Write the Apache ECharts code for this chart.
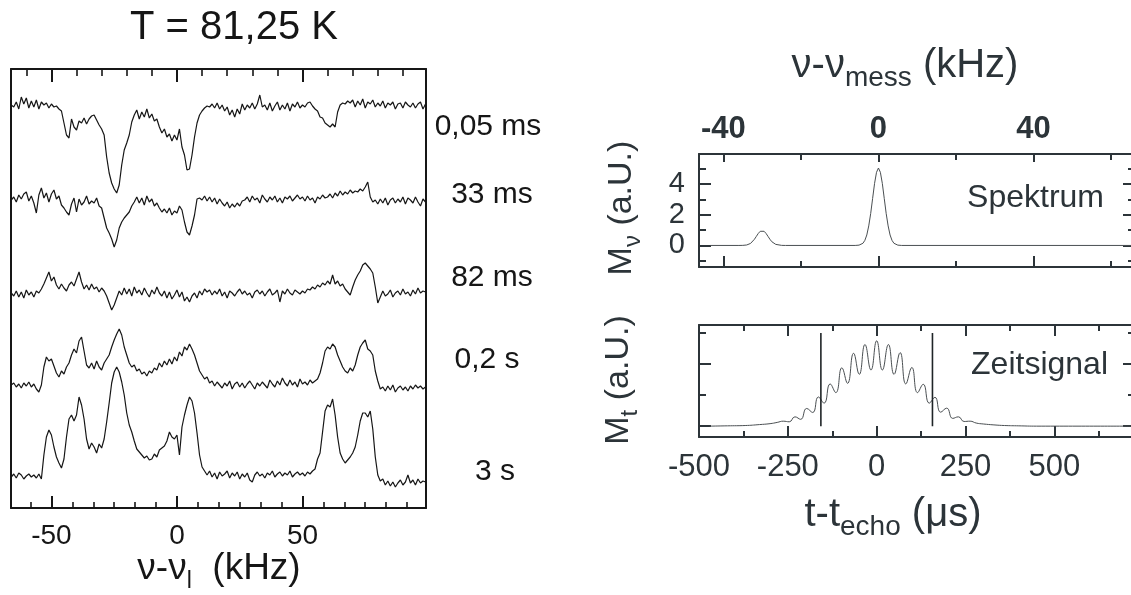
<!DOCTYPE html>
<html>
<head>
<meta charset="utf-8">
<script src="https://cdn.jsdelivr.net/npm/echarts@6/dist/echarts.min.js"></script>
<style>
  html, body { margin: 0; padding: 0; background: #ffffff; }
  #chart { width: 1131px; height: 595px; }
</style>
</head>
<body>
<div id="chart"></div>
<script>
// ---------------------------------------------------------------------------
// Left panel: NMR spectra at T = 81,25 K for several waiting times,
// sampled every 1 kHz from -66 kHz to +99 kHz (relative signal, stacked).
// ---------------------------------------------------------------------------
const FREQ_START_KHZ = -66;
const FREQ_STEP_KHZ = 1;

const waitLabels = ['0,05 ms', '33 ms', '82 ms', '0,2 s', '3 s'];

// vertical stacking offset of each spectrum
const traceOffsets = [403, 308, 215, 123, 31];

const spec005ms = [
  0, -2, 3, -4, 8, 1, 7, -3, 4, -2,
  5, -4, 3, 0, 2, -3, 1, -2, -1, -4,
  -6, -18, -30, -33, -14, -22, -25, -16, -18, -13,
  -19, -14, -11, -10, -15, -20, -24, -30, -52, -68,
  -78, -84, -88, -80, -60, -45, -38, -30, -17, -10,
  -5, -14, -7, -12, -4, -13, -9, -16, -14, -22,
  -28, -24, -32, -29, -36, -30, -35, -24, -42, -50,
  -65, -64, -50, -32, -18, -10, -6, -3, -1, -2,
  1, -3, 2, -4, 0, -6, -2, -10, -5, -12,
  -4, -9, 1, -5, 0, -3, 2, -4, 1, 10,
  -2, 0, -5, 2, -6, -1, 3, -5, 0, -4,
  2, -6, 1, -2, 3, -3, 0, -2, 2, 3,
  -1, -4, -6, -12, -13, -18, -20, -22, -19, -22,
  -7, 0, 2, 1, 4, 2, 5, -2, 4, 0,
  6, -3, 3, 1, 5, -2, 2, -1, 4, -3,
  2, 0, 3, -4, 1, 2, -3, 3, 0, -2,
  2, -3, 1, 3, -4, 1
];

const spec33ms = [
  0, 3, -2, 5, 1, 6, 8, -1, 4, -3,
  -13, 5, 12, 2, 7, -2, 6, 10, 1, 4,
  -5, -8, -12, -15, -4, 2, -12, 1, -5, -2,
  4, -4, -1, -3, 2, -6, -8, -18, -28, -33,
  -39, -47, -40, -28, -22, -18, -15, -12, -6, -2,
  3, -3, 2, -5, 4, -2, 1, -6, -3, -8,
  -12, -9, -13, -8, -15, -11, -13, -6, -10, -22,
  -32, -35, -26, -15, 1, 2, 0, 4, -1, 3,
  -2, 2, -4, 1, -3, -6, -2, -8, -4, -7,
  -3, -6, -1, 0, 3, -2, 4, 0, 2, -3,
  5, 1, -2, 3, 0, 4, -2, 2, -3, 3,
  1, 4, -1, 2, 5, 1, 3, -1, 4, 0,
  2, -3, 3, 1, 5, 2, 3, 6, 2, 7,
  4, 9, 5, 8, 6, 10, 7, 9, 8, 11,
  9, 13, 18, 3, -2, 0, -4, 1, -3, 2,
  -5, 0, 2, -3, 1, -2, 3, -4, 2, 0,
  -3, 3, -2, -6, 1, -2
];

const spec82ms = [
  0, -3, 2, -4, 1, -5, 3, -2, 1, -4,
  2, 0, 4, 9, 15, 21, 12, 16, 8, 4,
  9, 5, 2, 8, 11, 7, 14, 21, 11, 4,
  8, 3, 9, 4, 6, 1, 5, 2, -3, -10,
  -17, -12, -5, 2, -2, 5, -1, 4, -3, 6,
  0, 3, -2, 5, 0, -4, 3, -1, 6, 0,
  -3, 2, -5, 1, -6, -2, 3, -4, 1, -8,
  -4, -9, -3, 0, -5, 2, -2, 4, 1, 3,
  -2, 2, -1, 4, -3, 1, -5, 2, 0, -3,
  1, 4, -1, 2, -2, 0, -5, 1, 3, -1,
  2, -3, 1, 4, -2, 0, 3, -9, 2, -1,
  4, 0, -2, 3, 1, -1, 2, 0, 4, 3,
  6, 4, 8, 6, 10, 8, 12, 9, 18, 9,
  12, 7, 9, 4, 1, -2, 6, 13, 18, 22,
  28, 30, 27, 24, 20, 6, -10, -4, 2, -3,
  -1, 3, -4, 0, 2, -2, 4, -1, 1, -3,
  3, -1, 5, 0, 2, 1
];

const spec02s = [
  0, 2, -2, 1, -3, 2, -1, 3, -2, 1,
  -4, -7, 0, 18, 28, 24, 26, 19, 12, 8,
  14, 11, 18, 22, 30, 36, 32, 44, 48, 34,
  20, 17, 22, 16, 24, 18, 15, 22, 26, 30,
  38, 45, 51, 56, 50, 38, 30, 22, 18, 20,
  14, 16, 11, 13, 9, 14, 12, 17, 15, 22,
  18, 24, 20, 26, 21, 28, 24, 33, 29, 38,
  35, 41, 36, 30, 22, 14, 10, 6, 8, 2,
  4, -1, 3, 0, -3, 2, -1, 4, -4, 1,
  3, -2, 2, -3, 1, 4, 0, -4, 2, -1,
  3, 0, -3, 5, 1, -2, 4, 0, 7, 2,
  -1, 5, 0, 3, -2, 6, 1, 3, 0, 5,
  2, 4, 6, 12, 22, 34, 38, 36, 41, 38,
  30, 24, 18, 14, 12, 17, 14, 20, 30, 38,
  42, 45, 36, 34, 30, 14, 4, -4, -2, -6,
  -1, -5, 0, -7, -3, -1, -5, -2, -6, -1,
  -4, 0, -3, -1, -4, -2
];

const spec3s = [
  0, 3, -1, 4, 2, -2, 1, 3, 0, 2,
  -1, 3, -2, 22, 40, 47, 42, 30, 20, 14,
  9, 18, 40, 58, 62, 56, 62, 80, 72, 58,
  38, 28, 34, 30, 24, 33, 29, 38, 55, 74,
  94, 105, 110, 105, 95, 82, 64, 52, 45, 36,
  28, 25, 22, 19, 21, 17, 18, 23, 20, 27,
  29, 31, 36, 45, 40, 38, 42, 22, 50, 62,
  72, 80, 76, 64, 44, 22, 10, 6, 2, 6,
  0, 4, -2, 5, 1, 3, 6, -1, 4, 1,
  5, -2, 3, 0, 4, -3, -5, 2, 5, 1,
  3, -1, 4, 2, 6, 0, 3, 5, 1, 4,
  2, 6, 0, 3, 5, 2, 4, 1, 5, 3,
  6, 8, 18, 24, 45, 66, 72, 70, 78, 62,
  40, 24, 18, 14, 17, 20, 24, 30, 42, 56,
  64, 64, 60, 66, 48, 20, 2, -4, -2, -8,
  -4, -9, -5, -10, -6, -3, -8, -5, 2, -6,
  -3, -8, -2, -6, -4, -5
];

const spectra = [spec005ms, spec33ms, spec82ms, spec02s, spec3s];

// tick values of the left panel (kHz)
const leftMajorTicks = [-50, 0, 50];
const leftMinorTicksBottom = [-58.333, -41.667, -33.333, -25, -16.667, -8.333,
  8.333, 16.667, 25, 33.333, 41.667, 58.333, 66.667, 75, 83.333, 91.667];
const leftMinorTicksTop = [-60, -40, -30, -20, -10, 10, 20, 30, 40, 60, 70, 80, 90];

// ---------------------------------------------------------------------------
// Upper right: spectrum M_nu versus nu - nu_mess (kHz)
// ---------------------------------------------------------------------------
const specFreq = [-43.4, -36, -35, -34, -33.5, -33, -32.5, -32, -31.5, -31,
  -30.5, -30, -29.5, -29, -28.5, -28, -27.5, -27, -26.5, -26,
  -25, -24, -6, -5, -4.5, -4, -3.5, -3, -2.5, -2,
  -1.5, -1, -0.5, 0, 0.5, 1, 1.5, 2, 2.5, 3,
  3.5, 4, 4.5, 5, 6, 66.2];
const specAmp = [0, 0, 0.005, 0.03, 0.07, 0.13, 0.24, 0.40, 0.59, 0.78,
  0.92, 0.97, 0.92, 0.78, 0.59, 0.40, 0.24, 0.13, 0.07, 0.03,
  0.005, 0, 0, 0.02, 0.05, 0.14, 0.33, 0.68, 1.27, 2.07,
  3.05, 4.03, 4.75, 5.03, 4.75, 4.03, 3.05, 2.07, 1.27, 0.68,
  0.33, 0.14, 0.05, 0.02, 0, 0];
const specMajorX = [-40, 0, 40];
const specMinorX = [-20, 20, 60];
const specMajorY = [0, 2, 4];
const specMinorY = [-1, 1, 3, 5];

// ---------------------------------------------------------------------------
// Lower right: time signal M_t versus t - t_echo (microseconds)
// ---------------------------------------------------------------------------
const timeUs = [-470, -420, -370, -330, -300, -280, -263, -246, -230, -214,
  -197, -180, -164, -148, -131, -115, -98, -82, -65, -49,
  -33, -16, 0, 16, 33, 49, 66, 82, 99, 115,
  131, 148, 164, 180, 197, 214, 230, 246, 263, 280,
  300, 330, 360, 400, 450, 727];
const timeAmp = [0, 0.01, 0.02, 0.05, 0.08, 0.12, 0.16, 0.14, 0.30, 0.22,
  0.57, 0.44, 0.94, 0.74, 1.36, 1.08, 1.88, 1.38, 2.35, 1.67,
  2.63, 1.81, 2.75, 1.81, 2.63, 1.67, 2.37, 1.36, 1.89, 1.08,
  1.35, 0.74, 0.93, 0.45, 0.58, 0.25, 0.30, 0.15, 0.16, 0.10,
  0.07, 0.04, 0.02, 0.01, 0, 0];
const windowEdgesUs = [-157, 157];   // integration window markers
const windowSpan = [0, 3];
const timeMajorX = [-500, -250, 0, 250, 500];
const timeMinorX = [-375, -125, 125, 375, 625];
const timeMajorY = [0, 2];
const timeMinorY = [1, 3];

// ---------------------------------------------------------------------------
const FONT = "'Liberation Sans', Arial, Helvetica, sans-serif";
const INK_L = '#161616';
const INK_R = '#2c3439';
const TRACE_R = '#4a4f52';

function axis(gridIndex, position, min, max, o) {
  return {
    type: 'value',
    gridIndex: gridIndex,
    position: position,
    min: min,
    max: max,
    silent: true,
    axisLine: { show: !!o.line, onZero: false, lineStyle: { color: o.color, width: 2 } },
    axisTick: o.ticks ? {
      show: true, inside: true, length: o.len, customValues: o.ticks,
      lineStyle: { color: o.color, width: o.tickWidth || 2 }
    } : { show: false },
    axisLabel: o.labels ? {
      show: true, customValues: o.labels, margin: o.margin, color: o.color,
      fontFamily: FONT, fontSize: o.fontSize, fontWeight: o.fontWeight || 'normal'
    } : { show: false },
    splitLine: { show: false },
    minorTick: { show: false },
    minorSplitLine: { show: false }
  };
}

const L = { xmin: -66.1, xmax: 99.2, ymin: 0, ymax: 439 };
const S = { xmin: -46.3, xmax: 66.2, ymin: -1.4, ymax: 5.94 };
const T = { xmin: -500, xmax: 727, ymin: -0.35, ymax: 3.26 };

const xAxes = [
  // left panel (grid 0)
  axis(0, 'bottom', L.xmin, L.xmax, { line: true, color: INK_L, ticks: leftMajorTicks, len: 12, labels: leftMajorTicks, margin: 14, fontSize: 28 }),
  axis(0, 'bottom', L.xmin, L.xmax, { color: INK_L, ticks: leftMinorTicksBottom, len: 6, tickWidth: 1.6 }),
  axis(0, 'top', L.xmin, L.xmax, { line: true, color: INK_L, ticks: leftMajorTicks, len: 13 }),
  axis(0, 'top', L.xmin, L.xmax, { color: INK_L, ticks: leftMinorTicksTop, len: 7, tickWidth: 1.6 }),
  // spectrum (grid 1)
  axis(1, 'bottom', S.xmin, S.xmax, { line: true, color: INK_R, ticks: specMajorX, len: 11 }),
  axis(1, 'bottom', S.xmin, S.xmax, { color: INK_R, ticks: specMinorX, len: 6 }),
  axis(1, 'top', S.xmin, S.xmax, { line: true, color: INK_R, ticks: specMajorX, len: 8, labels: specMajorX, margin: 9, fontSize: 31, fontWeight: 'bold' }),
  axis(1, 'top', S.xmin, S.xmax, { color: INK_R, ticks: specMinorX, len: 6 }),
  // time signal (grid 2)
  axis(2, 'bottom', T.xmin, T.xmax, { line: true, color: INK_R, ticks: timeMajorX, len: 11, labels: timeMajorX, margin: 15, fontSize: 31 }),
  axis(2, 'bottom', T.xmin, T.xmax, { color: INK_R, ticks: timeMinorX, len: 6 }),
  axis(2, 'top', T.xmin, T.xmax, { line: true, color: INK_R, ticks: timeMajorX, len: 11 }),
  axis(2, 'top', T.xmin, T.xmax, { color: INK_R, ticks: timeMinorX, len: 6 })
];

const yAxes = [
  axis(0, 'left', L.ymin, L.ymax, { line: true, color: INK_L }),
  axis(0, 'right', L.ymin, L.ymax, { line: true, color: INK_L }),
  axis(1, 'left', S.ymin, S.ymax, { line: true, color: INK_R, ticks: specMajorY, len: 12, labels: specMajorY, margin: 14, fontSize: 29 }),
  axis(1, 'left', S.ymin, S.ymax, { color: INK_R, ticks: specMinorY, len: 7 }),
  axis(1, 'right', S.ymin, S.ymax, { line: true, color: INK_R, ticks: specMajorY, len: 12 }),
  axis(1, 'right', S.ymin, S.ymax, { color: INK_R, ticks: specMinorY, len: 7 }),
  axis(2, 'left', T.ymin, T.ymax, { line: true, color: INK_R, ticks: timeMajorY, len: 12 }),
  axis(2, 'left', T.ymin, T.ymax, { color: INK_R, ticks: timeMinorY, len: 7 }),
  axis(2, 'right', T.ymin, T.ymax, { line: true, color: INK_R, ticks: timeMajorY, len: 12 }),
  axis(2, 'right', T.ymin, T.ymax, { color: INK_R, ticks: timeMinorY, len: 7 })
];

const series = [];
spectra.forEach(function (trace, k) {
  series.push({
    type: 'line',
    xAxisIndex: 0, yAxisIndex: 0,
    data: trace.map(function (h, i) {
      return [FREQ_START_KHZ + i * FREQ_STEP_KHZ, traceOffsets[k] + h];
    }),
    showSymbol: false, symbol: 'none',
    lineStyle: { color: INK_L, width: 1.2 },
    silent: true
  });
});

series.push({
  type: 'line', xAxisIndex: 4, yAxisIndex: 2,
  data: specFreq.map(function (f, i) { return [f, specAmp[i]]; }),
  showSymbol: false, symbol: 'none',
  lineStyle: { color: TRACE_R, width: 1 },
  silent: true
});

series.push({
  type: 'line', xAxisIndex: 8, yAxisIndex: 6,
  data: timeUs.map(function (t, i) { return [t, timeAmp[i]]; }),
  smooth: 0.5,
  showSymbol: false, symbol: 'none',
  lineStyle: { color: TRACE_R, width: 1 },
  silent: true
});

windowEdgesUs.forEach(function (t) {
  series.push({
    type: 'line', xAxisIndex: 8, yAxisIndex: 6,
    data: windowSpan.map(function (v) { return [t, v]; }),
    showSymbol: false, symbol: 'none',
    lineStyle: { color: '#1f2427', width: 1.6 },
    silent: true
  });
});

// rich-text styles for labels with subscripts
function subRich(color, size, subSize) {
  return {
    m: { fontFamily: FONT, fontSize: size, fill: color, lineHeight: size + 6, verticalAlign: 'top' },
    s: { fontFamily: FONT, fontSize: subSize, fill: color, lineHeight: subSize - 2, verticalAlign: 'bottom' }
  };
}

function richText(x, y, text, color, size, subSize, rotation) {
  return {
    type: 'text', x: x, y: y, rotation: rotation || 0, silent: true,
    style: {
      text: text, rich: subRich(color, size, subSize),
      align: 'center', verticalAlign: 'middle'
    }
  };
}

function plainText(x, y, text, color, size, align) {
  return {
    type: 'text', x: x, y: y, silent: true,
    style: {
      text: text, fill: color, fontFamily: FONT, fontSize: size,
      align: align || 'center', verticalAlign: 'middle'
    }
  };
}

// placement of the waiting-time captions beside the spectra
const captionX = [488, 492, 492, 487, 495];
const captionY = [127, 195, 278, 360, 472];

const graphic = [
  plainText(234, 28, 'T = 81,25 K', INK_L, 40),
  richText(219, 572, '{m|ν-ν}{s|l}{m|  (kHz)}', INK_L, 37, 23),
  richText(905, 69, '{m|ν-ν}{s|mess}{m| (kHz)}', INK_R, 40, 28),
  richText(893, 518, '{m|t-t}{s|echo}{m| (μs)}', INK_R, 40, 28),
  richText(625, 208, '{m|M}{s|ν}{m| (a.U.)}', INK_R, 34, 24, Math.PI / 2),
  richText(622, 380, '{m|M}{s|t}{m| (a.U.)}', INK_R, 34, 24, Math.PI / 2),
  plainText(1104, 198, 'Spektrum', INK_R, 32, 'right'),
  plainText(1108, 365, 'Zeitsignal', INK_R, 32, 'right')
].concat(waitLabels.map(function (t, i) {
  return plainText(captionX[i], captionY[i], t, INK_L, 30);
}));

const option = {
  animation: false,
  backgroundColor: '#ffffff',
  textStyle: { fontFamily: FONT },
  grid: [
    { left: 11, top: 69, width: 415, height: 439, containLabel: false, outerBoundsMode: 'none' },
    { left: 699, top: 154, width: 436, height: 113, containLabel: false, outerBoundsMode: 'none' },
    { left: 699, top: 325, width: 436, height: 112, containLabel: false, outerBoundsMode: 'none' }
  ],
  xAxis: xAxes,
  yAxis: yAxes,
  series: series,
  graphic: graphic
};

const chart = echarts.init(document.getElementById('chart'), null, { renderer: 'canvas' });
chart.setOption(option);
</script>
</body>
</html>
